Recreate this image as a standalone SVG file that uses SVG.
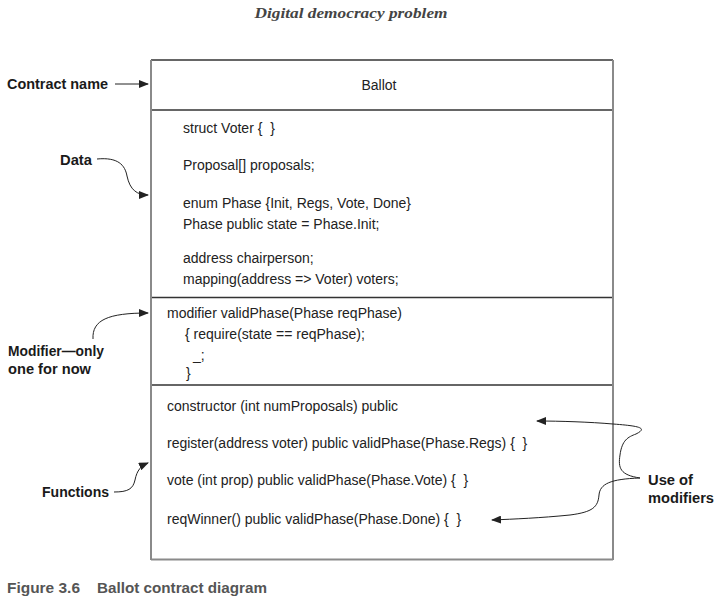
<svg xmlns="http://www.w3.org/2000/svg" width="717" height="601" viewBox="0 0 717 601">
<style>
.code{font-family:"Liberation Sans",Arial,sans-serif;font-size:14px;fill:#222;white-space:pre}
.lbl{font-family:"Liberation Sans",Arial,sans-serif;font-size:14px;font-weight:bold;fill:#1a1a1a}
.v{stroke:#8a8a8a;stroke-width:2;fill:none}
.h{stroke:#333;stroke-width:1.5;fill:none}
.con{stroke:#222;stroke-width:1;fill:none;marker-end:url(#ah)}
.cap{font-family:"Liberation Sans",Arial,sans-serif;font-weight:bold;font-size:14px;fill:#555}
</style>
<defs>
<marker id="ah" viewBox="0 0 10 8" refX="9" refY="4" markerWidth="10" markerHeight="8" markerUnits="userSpaceOnUse" orient="auto">
<path d="M0,0 L10,4 L0,8 Z" fill="#222"/>
</marker>
</defs>
<rect width="717" height="601" fill="#fff"/>
<text x="351" y="18" text-anchor="middle" font-family="Liberation Serif,serif" font-style="italic" font-weight="bold" font-size="15" fill="#444" textLength="193" lengthAdjust="spacingAndGlyphs">Digital democracy problem</text>

<g id="ballot">
<line class="h" x1="151" y1="60" x2="613" y2="60"/>
<line class="h" x1="151" y1="110" x2="613" y2="110"/>
<line class="h" x1="151" y1="297.5" x2="613" y2="297.5"/>
<line class="h" x1="151" y1="385" x2="613" y2="385"/>
<line class="v" x1="151" y1="559.5" x2="613" y2="559.5"/>
<line class="v" x1="151" y1="60" x2="151" y2="560"/>
<line class="v" x1="613" y1="60" x2="613" y2="560"/>
<text class="code" x="379" y="90" text-anchor="middle">Ballot</text>
<text class="code" x="183" y="133" xml:space="preserve">struct Voter {  }</text>
<text class="code" x="183" y="170">Proposal[] proposals;</text>
<text class="code" x="183" y="208">enum Phase {Init, Regs, Vote, Done}</text>
<text class="code" x="183" y="229">Phase public state = Phase.Init;</text>
<text class="code" x="183" y="263">address chairperson;</text>
<text class="code" x="183" y="284">mapping(address =&gt; Voter) voters;</text>
<text class="code" x="167" y="318">modifier validPhase(Phase reqPhase)</text>
<text class="code" x="185" y="339">{ require(state == reqPhase);</text>
<text class="code" x="193" y="360">_;</text>
<text class="code" x="186" y="378">}</text>
<text class="code" x="167" y="411">constructor (int numProposals) public</text>
<text class="code" x="167" y="448" xml:space="preserve">register(address voter) public validPhase(Phase.Regs) {  }</text>
<text class="code" x="167" y="485" xml:space="preserve">vote (int prop) public validPhase(Phase.Vote) {  }</text>
<text class="code" x="167" y="524" xml:space="preserve">reqWinner() public validPhase(Phase.Done) {  }</text>
</g>

<g id="label-contract-name"><text class="lbl" x="7" y="89" textLength="101" lengthAdjust="spacingAndGlyphs">Contract name</text></g>
<g id="label-data"><text class="lbl" x="60" y="165" textLength="32" lengthAdjust="spacingAndGlyphs">Data</text></g>
<g id="label-modifier"><text class="lbl" x="8" y="356" textLength="96" lengthAdjust="spacingAndGlyphs">Modifier—only</text><text class="lbl" x="8" y="374" textLength="83" lengthAdjust="spacingAndGlyphs">one for now</text></g>
<g id="label-functions"><text class="lbl" x="42" y="497" textLength="67" lengthAdjust="spacingAndGlyphs">Functions</text></g>
<g id="label-use"><text class="lbl" x="648" y="485" textLength="45" lengthAdjust="spacingAndGlyphs">Use of</text><text class="lbl" x="648" y="503" textLength="66" lengthAdjust="spacingAndGlyphs">modifiers</text></g>

<g id="connectors">
<path class="con" d="M115,84 L148,84"/>
<path class="con" d="M97,159 C118,157 125,165 127,176 C130,190 137,195 148,195"/>
<path class="con" d="M93,339 C92,320 108,313 148,313"/>
<path class="con" d="M114,492 C128,492 133,489 135,480 C137,470 141,466 148,463"/>
<path class="con" d="M640,478 C620,475 618,468 620,455 C622,440 628,437 636,434 C648,428 640,426 613,424 C590,422 560,421 537,421"/>
<path class="con" d="M640,478 C610,479 600,484 599,495 C598,507 593,512 570,515 C540,518 515,519 492,520"/>
</g>

<text class="cap" x="7" y="593" textLength="73" lengthAdjust="spacingAndGlyphs">Figure 3.6</text>
<text class="cap" x="97" y="593" textLength="170" lengthAdjust="spacingAndGlyphs">Ballot contract diagram</text>
</svg>
